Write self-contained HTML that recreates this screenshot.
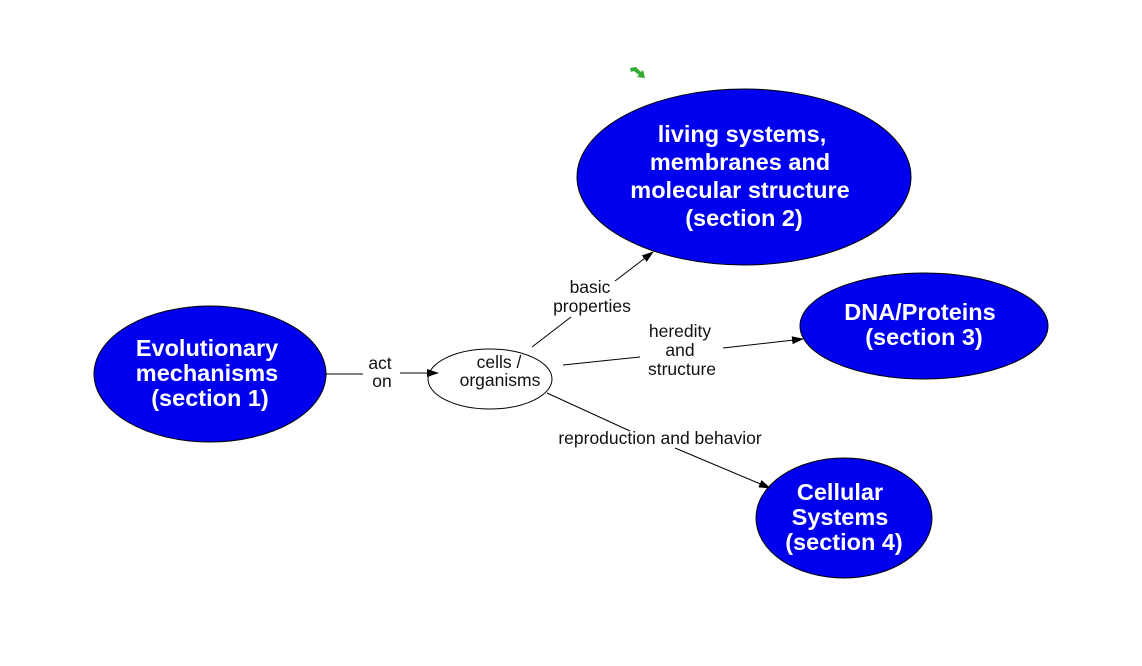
<!DOCTYPE html>
<html><head><style>body{margin:0;background:#fff}svg{display:block}</style></head><body>
<svg width="1142" height="666" viewBox="0 0 1142 666" xmlns="http://www.w3.org/2000/svg">
<defs><marker id="a" markerWidth="12" markerHeight="8" refX="11" refY="4" orient="auto" markerUnits="userSpaceOnUse"><path d="M0,0 L12,4 L0,8 z" fill="#000"/></marker></defs>
<g fill="#0000ee" stroke="#000" stroke-width="1">
<ellipse cx="210" cy="374" rx="116" ry="68"/>
<ellipse cx="744" cy="177" rx="167" ry="88"/>
<ellipse cx="924" cy="326" rx="124" ry="53"/>
<ellipse cx="844" cy="518" rx="88" ry="60"/>
</g>
<ellipse cx="490" cy="379" rx="62" ry="30" fill="#fff" stroke="#000"/>
<g stroke="#000" stroke-width="1" fill="none">
<line x1="326" y1="374" x2="363" y2="374"/>
<line x1="400" y1="373" x2="438" y2="373" marker-end="url(#a)"/>
<line x1="532" y1="347" x2="571" y2="317"/>
<line x1="615" y1="281" x2="653" y2="252" marker-end="url(#a)"/>
<line x1="563" y1="365" x2="640" y2="357"/>
<line x1="723" y1="348" x2="803" y2="339" marker-end="url(#a)"/>
<line x1="547" y1="393" x2="630" y2="431"/>
<line x1="675" y1="448" x2="770" y2="488" marker-end="url(#a)"/>
</g>
<g font-family="Liberation Sans, sans-serif" font-weight="bold" font-size="23.5" fill="#fff" text-anchor="middle">
<text x="207" y="356">Evolutionary</text>
<text x="207" y="381">mechanisms</text>
<text x="210" y="406">(section 1)</text>
<text x="742" y="142">living systems,</text>
<text x="740" y="170">membranes and</text>
<text x="740" y="198">molecular structure</text>
<text x="744" y="226">(section 2)</text>
<text x="920" y="320">DNA/Proteins</text>
<text x="924" y="345">(section 3)</text>
<text x="840" y="500">Cellular</text>
<text x="840" y="525">Systems</text>
<text x="844" y="550">(section 4)</text>
</g>
<g font-family="Liberation Sans, sans-serif" font-size="17.5" fill="#111" text-anchor="middle">
<text x="380" y="369">act</text>
<text x="382" y="387">on</text>
<text x="499" y="368">cells /</text>
<text x="500" y="386">organisms</text>
<text x="590" y="293">basic</text>
<text x="592" y="312">properties</text>
<text x="680" y="337">heredity</text>
<text x="680" y="356">and</text>
<text x="682" y="375">structure</text>
<text x="660" y="444">reproduction and behavior</text>
</g>
<path d="M630,68 L636,67 L641,72 L643,70 L645,78 L637,77 L639,75 L634,71 L631,72 z" fill="#3a3"/>
</svg>
</body></html>
